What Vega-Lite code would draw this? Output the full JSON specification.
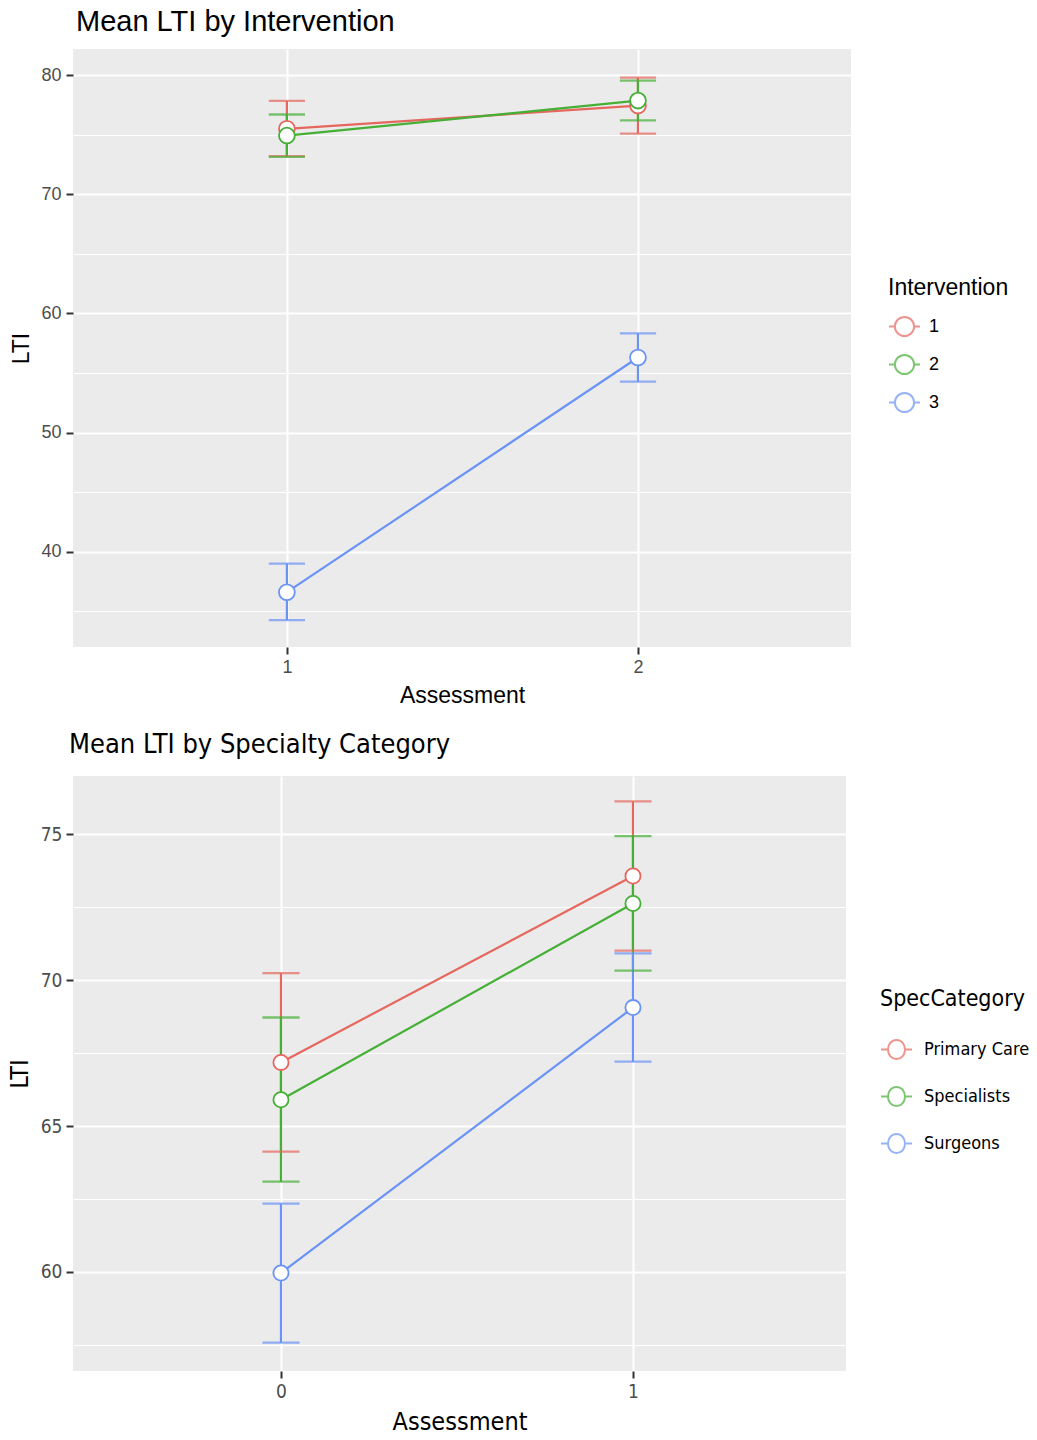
{
  "$schema": "https://vega.github.io/schema/vega-lite/v6.json",
  "background": "white",
  "padding": {"left": 7, "top": 8, "right": 5, "bottom": 5},
  "spacing": 24,
  "align": "none",
  "resolve": {"scale": {"stroke": "independent"}, "legend": {"stroke": "independent"}},
  "datasets": {
    "interv": [
      {"Assessment": 1, "Intervention": "1", "LTI": 75.5, "lower": 73.2, "upper": 77.85},
      {"Assessment": 2, "Intervention": "1", "LTI": 77.45, "lower": 75.1, "upper": 79.8},
      {"Assessment": 1, "Intervention": "2", "LTI": 74.93, "lower": 73.15, "upper": 76.7},
      {"Assessment": 2, "Intervention": "2", "LTI": 77.87, "lower": 76.2, "upper": 79.55},
      {"Assessment": 1, "Intervention": "3", "LTI": 36.6, "lower": 34.25, "upper": 39.0},
      {"Assessment": 2, "Intervention": "3", "LTI": 56.3, "lower": 54.27, "upper": 58.33}
    ],
    "spec": [
      {"Assessment": 0, "SpecCategory": "Primary Care", "LTI": 67.18, "lower": 64.12, "upper": 70.24},
      {"Assessment": 1, "SpecCategory": "Primary Care", "LTI": 73.57, "lower": 71.01, "upper": 76.13},
      {"Assessment": 0, "SpecCategory": "Specialists", "LTI": 65.9, "lower": 63.09, "upper": 68.72},
      {"Assessment": 1, "SpecCategory": "Specialists", "LTI": 72.63, "lower": 70.33, "upper": 74.94},
      {"Assessment": 0, "SpecCategory": "Surgeons", "LTI": 59.96, "lower": 57.57, "upper": 62.34},
      {"Assessment": 1, "SpecCategory": "Surgeons", "LTI": 69.06, "lower": 67.21, "upper": 70.92}
    ]
  },
  "config": {
    "view": {"fill": "#EBEBEB", "stroke": null},
    "axis": {
      "domain": false,
      "grid": true,
      "gridColor": "white",
      "tickColor": "#333333",
      "tickWidth": 2,
      "tickSize": 7,
      "labelColor": "#4D4D4D",
      "titleColor": "black",
      "titleFontWeight": "normal",
      "labelPadding": 4
    },
    "legend": {
      "titleFontWeight": "normal",
      "titleColor": "black",
      "labelColor": "black",
      "padding": 0
    }
  },
  "vconcat": [
    {
      "width": 778,
      "height": 598,
      "title": {"text": "Mean LTI by Intervention", "anchor": "start", "frame": "group", "fontSize": 29, "fontWeight": "normal", "font": "Liberation Sans", "color": "black", "offset": 12, "dx": 3},
      "data": {"name": "interv"},
      "encoding": {
        "x": {
          "field": "Assessment", "type": "ordinal",
          "scale": {"type": "point", "padding": 0.608, "align": 0.501},
          "axis": {"labelAngle": 0, "labelFont": "Liberation Sans", "labelFontSize": 18, "titleFont": "Liberation Sans", "titleFontSize": 23, "titlePadding": 8, "gridWidth": 2}
        },
        "stroke": {
          "field": "Intervention", "type": "nominal",
          "scale": {"range": ["#E5675E", "#45AF36", "#6A93F5"]},
          "legend": {
            "orient": "none", "legendX": 815, "legendY": 228,
            "title": "Intervention", "titleFont": "Liberation Sans", "titleFontSize": 23, "titlePadding": 10,
            "labelFont": "Liberation Sans", "labelFontSize": 18, "labelOffset": 8,
            "symbolType": "M-1,0L-0.62,0M0.62,0L1,0M-0.62,0A0.62,0.62,0,1,1,0.62,0A0.62,0.62,0,1,1,-0.62,0",
            "symbolSize": 961, "symbolStrokeWidth": 2, "symbolFillColor": "white", "rowPadding": 7
          }
        }
      },
      "layer": [
        {
          "mark": {"type": "rule", "strokeWidth": 2.2},
          "encoding": {
            "y": {
              "field": "lower", "type": "quantitative", "title": "LTI",
              "scale": {"domain": [32, 82.2], "nice": false, "zero": false},
              "axis": {
                "values": [35, 40, 45, 50, 55, 60, 65, 70, 75, 80],
                "labelExpr": "datum.value % 10 === 0 ? datum.label : ''",
                "tickOpacity": {"condition": {"test": "datum.value % 10 === 0", "value": 1}, "value": 0},
                "gridWidth": {"condition": {"test": "datum.value % 10 === 0", "value": 2}, "value": 1},
                "labelFont": "Liberation Sans", "labelFontSize": 18, "labelPadding": 5,
                "titleFont": "Liberation Sans", "titleFontSize": 23, "titlePadding": 7
              }
            },
            "y2": {"field": "upper"}
          }
        },
        {
          "mark": {"type": "tick", "filled": false, "size": 34, "thickness": 0.1, "strokeWidth": 2.2},
          "encoding": {"y": {"field": "lower", "type": "quantitative", "title": "LTI"}}
        },
        {
          "mark": {"type": "tick", "filled": false, "size": 34, "thickness": 0.1, "strokeWidth": 2.2},
          "encoding": {"y": {"field": "upper", "type": "quantitative", "title": "LTI"}}
        },
        {
          "mark": {"type": "line", "strokeWidth": 2.2},
          "encoding": {"y": {"field": "LTI", "type": "quantitative", "title": "LTI"}}
        },
        {
          "mark": {"type": "point", "filled": false, "fill": "white", "size": 250, "strokeWidth": 1.8, "opacity": 1},
          "encoding": {"y": {"field": "LTI", "type": "quantitative", "title": "LTI"}}
        }
      ]
    },
    {
      "width": 773,
      "height": 595,
      "title": {"text": "Mean LTI by Specialty Category", "anchor": "start", "frame": "group", "fontSize": 27, "fontWeight": "normal", "font": "DejaVu Sans Condensed", "color": "black", "offset": 17, "dx": -4},
      "data": {"name": "spec"},
      "encoding": {
        "x": {
          "field": "Assessment", "type": "ordinal",
          "scale": {"type": "point", "padding": 0.598, "align": 0.494},
          "axis": {"labelAngle": 0, "labelFont": "DejaVu Sans Condensed", "labelFontSize": 19, "titleFont": "DejaVu Sans Condensed", "titleFontSize": 25, "titlePadding": 8, "gridWidth": 2}
        },
        "stroke": {
          "field": "SpecCategory", "type": "nominal",
          "scale": {"range": ["#E5675E", "#45AF36", "#6A93F5"]},
          "legend": {
            "orient": "none", "legendX": 807, "legendY": 212,
            "title": "SpecCategory", "titleFont": "DejaVu Sans Condensed", "titleFontSize": 23, "titlePadding": 22,
            "labelFont": "DejaVu Sans Condensed", "labelFontSize": 18, "labelOffset": 11,
            "symbolType": "M-1,0L-0.55,0M0.55,0L1,0M-0.55,0A0.55,0.62,0,1,1,0.55,0A0.55,0.62,0,1,1,-0.55,0",
            "symbolSize": 961, "symbolStrokeWidth": 2, "symbolFillColor": "white", "rowPadding": 16
          }
        }
      },
      "layer": [
        {
          "mark": {"type": "rule", "strokeWidth": 2.2},
          "encoding": {
            "y": {
              "field": "lower", "type": "quantitative", "title": "LTI",
              "scale": {"domain": [56.6, 77.0], "nice": false, "zero": false},
              "axis": {
                "values": [57.5, 60, 62.5, 65, 67.5, 70, 72.5, 75],
                "labelExpr": "datum.value % 5 === 0 ? datum.label : ''",
                "tickOpacity": {"condition": {"test": "datum.value % 5 === 0", "value": 1}, "value": 0},
                "gridWidth": {"condition": {"test": "datum.value % 5 === 0", "value": 2}, "value": 1},
                "labelFont": "DejaVu Sans Condensed", "labelFontSize": 19, "labelPadding": 4,
                "titleFont": "DejaVu Sans Condensed", "titleFontSize": 25, "titlePadding": 8
              }
            },
            "y2": {"field": "upper"}
          }
        },
        {
          "mark": {"type": "tick", "filled": false, "size": 35, "thickness": 0.1, "strokeWidth": 2.2},
          "encoding": {"y": {"field": "lower", "type": "quantitative", "title": "LTI"}}
        },
        {
          "mark": {"type": "tick", "filled": false, "size": 35, "thickness": 0.1, "strokeWidth": 2.2},
          "encoding": {"y": {"field": "upper", "type": "quantitative", "title": "LTI"}}
        },
        {
          "mark": {"type": "line", "strokeWidth": 2.2},
          "encoding": {"y": {"field": "LTI", "type": "quantitative", "title": "LTI"}}
        },
        {
          "mark": {"type": "point", "filled": false, "fill": "white", "size": 230, "strokeWidth": 1.8, "opacity": 1},
          "encoding": {"y": {"field": "LTI", "type": "quantitative", "title": "LTI"}}
        }
      ]
    }
  ]
}
